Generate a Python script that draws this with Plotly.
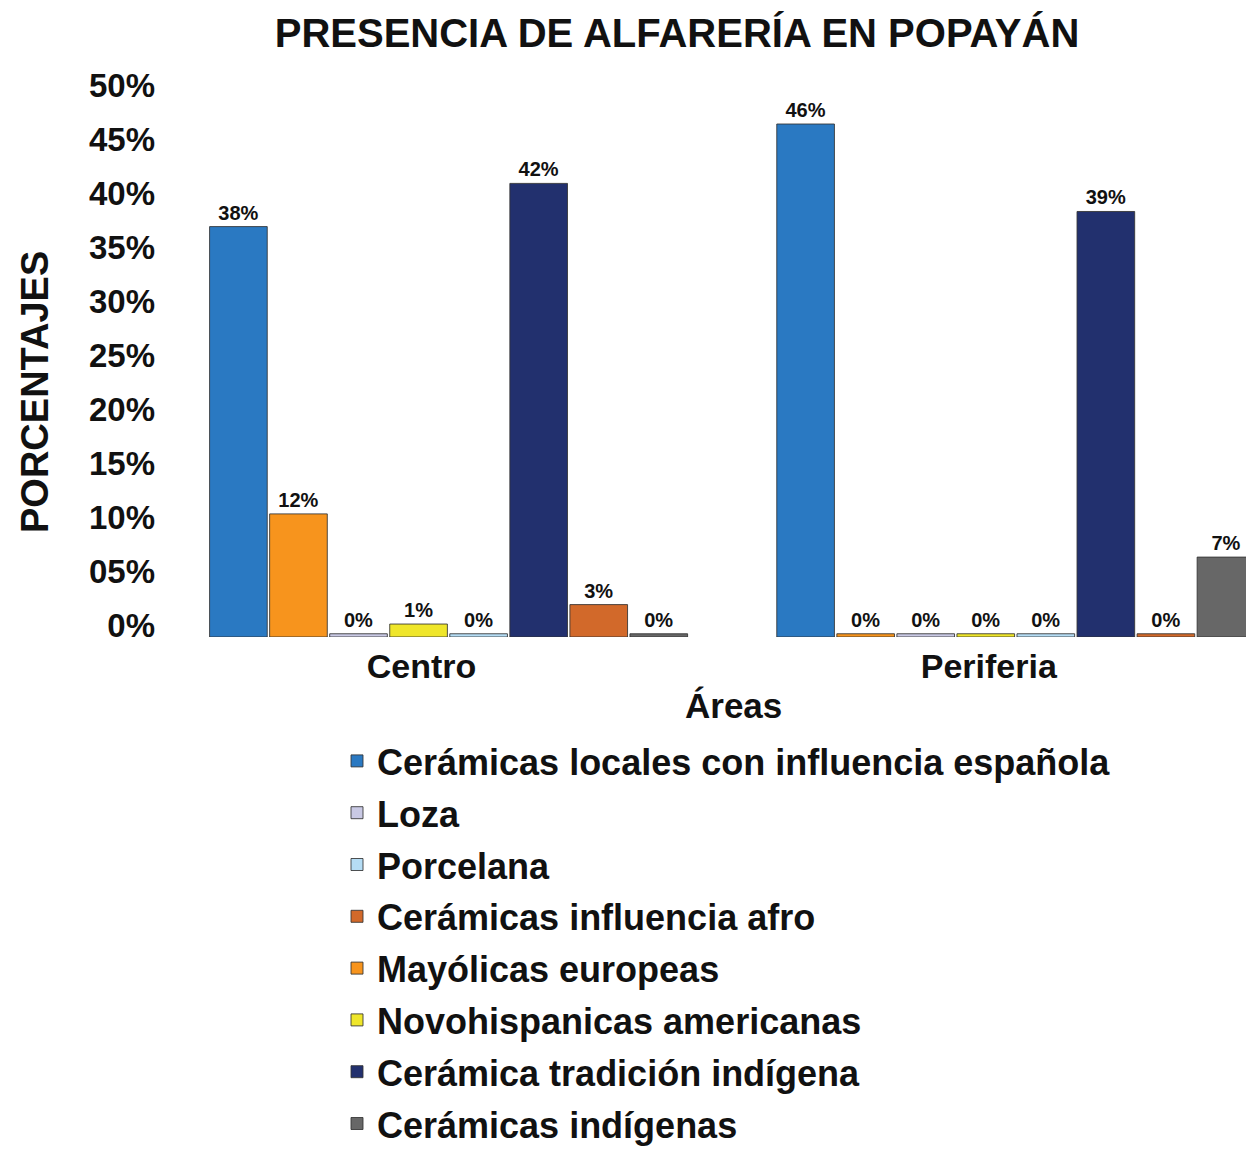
import plotly.graph_objects as go

# ---- data ----
areas = ["Centro", "Periferia"]
series_names = [
    "Cerámicas locales con influencia española",
    "Mayólicas europeas",
    "Loza",
    "Novohispanicas americanas",
    "Porcelana",
    "Cerámica tradición indígena",
    "Cerámicas influencia afro",
    "Cerámicas indígenas",
]
# bar heights (percent)
locales = [38.0, 47.5]
mayolicas = [11.4, 0.3]
loza = [0.3, 0.3]
novohispanicas = [1.2, 0.3]
porcelana = [0.3, 0.3]
tradicion = [42.0, 39.4]
afro = [3.0, 0.3]
indigenas = [0.3, 7.4]
# printed labels
locales_lbl = ["38%", "46%"]
mayolicas_lbl = ["12%", "0%"]
loza_lbl = ["0%", "0%"]
novohispanicas_lbl = ["1%", "0%"]
porcelana_lbl = ["0%", "0%"]
tradicion_lbl = ["42%", "39%"]
afro_lbl = ["3%", "0%"]
indigenas_lbl = ["0%", "7%"]

y_tickvals = [0, 5, 10, 15, 20, 25, 30, 35, 40, 45, 50]
y_ticktext = ["0%", "05%", "10%", "15%", "20%", "25%", "30%", "35%", "40%", "45%", "50%"]

values = [locales, mayolicas, loza, novohispanicas, porcelana, tradicion, afro, indigenas]
labels = [locales_lbl, mayolicas_lbl, loza_lbl, novohispanicas_lbl, porcelana_lbl,
          tradicion_lbl, afro_lbl, indigenas_lbl]
colors = ["#2A79C2", "#F7941D", "#C9C9E4", "#EFE62A", "#B5DDF5", "#22306E", "#D2692A", "#676767"]
legend_rank = [1, 5, 2, 6, 3, 7, 4, 8]

FONT = "Liberation Sans, Arial, sans-serif"
INK = "#111111"

fig = go.Figure()
for name, v, lbl, c, r in zip(series_names, values, labels, colors, legend_rank):
    fig.add_trace(go.Bar(
        x=areas, y=v, name="<b>" + name + "</b>", text=lbl, textposition="outside",
        textfont=dict(family=FONT, size=20, color=INK, weight="bold"),
        marker=dict(color=c, line=dict(color="rgba(50,50,50,0.85)", width=1)),
        cliponaxis=False, legendrank=r, legendgroup=name,
    ))

# page has an 8px body margin; figure coordinates = page - 8
W, H = 1246, 1147
ml, mr, mt, mb = 157, 0, 89, 518
PW = W - ml - mr
PH = H - mt - mb
BASE = H - mb  # baseline in figure px


def px_x(page_x):
    return (page_x - 8 - ml) / PW


def px_y(page_y):
    return (BASE - (page_y - 8)) / PH


fig.update_layout(
    width=W, height=H,
    margin=dict(l=ml, r=mr, t=mt, b=mb, pad=0, autoexpand=False),
    paper_bgcolor="white", plot_bgcolor="white",
    barmode="group", bargap=0.153, bargroupgap=0.04,
    font=dict(family=FONT, color=INK),
    title=dict(text="<b>PRESENCIA DE ALFARERÍA EN POPAYÁN</b>",
               font=dict(family=FONT, size=40, color=INK),
               x=(677 - 8) / W, xanchor="center", y=1 - 25 / H, yanchor="middle"),
    xaxis=dict(range=[-0.5, 1.42], showgrid=False, zeroline=False, showline=False,
               automargin=False, ticks="",
               tickfont=dict(family=FONT, size=34, color=INK, weight="bold"),
               ticklabelshift=-27, ticklabelstandoff=6),
    yaxis=dict(range=[0, 50], tickvals=y_tickvals, ticktext=y_ticktext,
               showgrid=False, zeroline=False, showline=False, ticks="",
               automargin=False,
               tickfont=dict(family=FONT, size=33, color=INK, weight="bold"),
               ticklabelshift=-12, ticklabelstandoff=9),
    legend=dict(x=px_x(337), xanchor="left",
                y=px_y(731), yanchor="top",
                font=dict(family=FONT, size=36, color=INK),
                bgcolor="rgba(0,0,0,0)", borderwidth=0,
                traceorder="grouped", tracegroupgap=2, itemwidth=30),
    showlegend=True,
)

fig.add_annotation(text="<b>Áreas</b>", xref="paper", yref="paper",
                   x=px_x(733), y=px_y(705),
                   showarrow=False, font=dict(family=FONT, size=35, color=INK),
                   xanchor="center", yanchor="middle")
fig.add_annotation(text="<b>PORCENTAJES</b>", xref="paper", yref="paper",
                   x=px_x(35), y=px_y(392), textangle=-90,
                   showarrow=False, font=dict(family=FONT, size=38, color=INK),
                   xanchor="center", yanchor="middle")

fig.write_html("out.html")
